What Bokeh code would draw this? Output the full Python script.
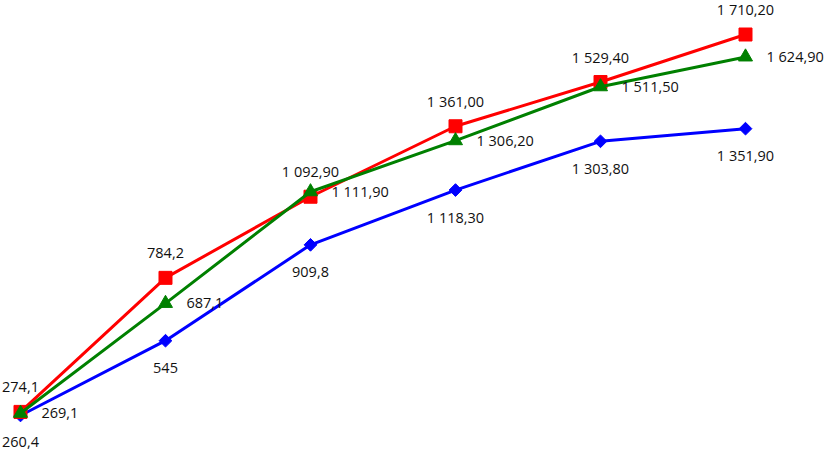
from bokeh.plotting import figure
from bokeh.models import ColumnDataSource, Range1d
from bokeh.core.properties import value
from bokeh.embed import file_html
from bokeh.resources import INLINE

# ---- data ----
categories = [0, 1, 2, 3, 4, 5]

red_values = [274.1, 784.2, 1092.9, 1361.0, 1529.4, 1710.2]
red_labels = ["274,1", "784,2", "1 092,90", "1 361,00", "1 529,40", "1 710,20"]

green_values = [269.1, 687.1, 1111.9, 1306.2, 1511.5, 1624.9]
green_labels = ["269,1", "687,1", "1 111,90", "1 306,20", "1 511,50", "1 624,90"]

blue_values = [260.4, 545.0, 909.8, 1118.3, 1303.8, 1351.9]
blue_labels = ["260,4", "545", "909,8", "1 118,30", "1 303,80", "1 351,90"]

FONT = value("Open Sans")

p = figure(width=824, height=451, output_backend="svg", toolbar_location=None,
           x_range=Range1d(-0.1379, 5.5448), y_range=Range1d(123.4, 1839.6),
           min_border=0, min_border_left=0, min_border_right=0,
           min_border_top=0, min_border_bottom=0)
p.axis.visible = False
p.xgrid.visible = False
p.ygrid.visible = False
p.outline_line_color = None
p.background_fill_color = "white"
p.border_fill_color = "white"

blue_src = ColumnDataSource(dict(x=categories, y=blue_values, t=blue_labels))
red_src = ColumnDataSource(dict(x=categories, y=red_values, t=red_labels))
green_src = ColumnDataSource(dict(x=categories, y=green_values, t=green_labels))

# blue series
p.line("x", "y", source=blue_src, line_color="#0000FF", line_width=3)
p.scatter("x", "y", source=blue_src, marker="square", angle=0.7854, size=9,
          fill_color="#0000FF", line_color="#0000FF")
# red series
p.line("x", "y", source=red_src, line_color="#FF0000", line_width=3)
p.scatter("x", "y", source=red_src, marker="square", size=13,
          fill_color="#FF0000", line_color="#FF0000")
# green series
p.line("x", "y", source=green_src, line_color="#008000", line_width=3)
p.scatter("x", "y", source=green_src, marker="triangle", size=14,
          fill_color="#008000", line_color="#008000")

# labels
p.text("x", "y", text="t", source=red_src, text_font=FONT, text_font_size="14.5px",
       text_color="#111111", text_align="center", text_baseline="middle", y_offset=-25)
p.text("x", "y", text="t", source=green_src, text_font=FONT, text_font_size="14.5px",
       text_color="#111111", text_align="left", text_baseline="middle", x_offset=21)
p.text("x", "y", text="t", source=blue_src, text_font=FONT, text_font_size="14.5px",
       text_color="#111111", text_align="center", text_baseline="middle", y_offset=27)

open("out.html", "w").write(file_html(p, INLINE))
